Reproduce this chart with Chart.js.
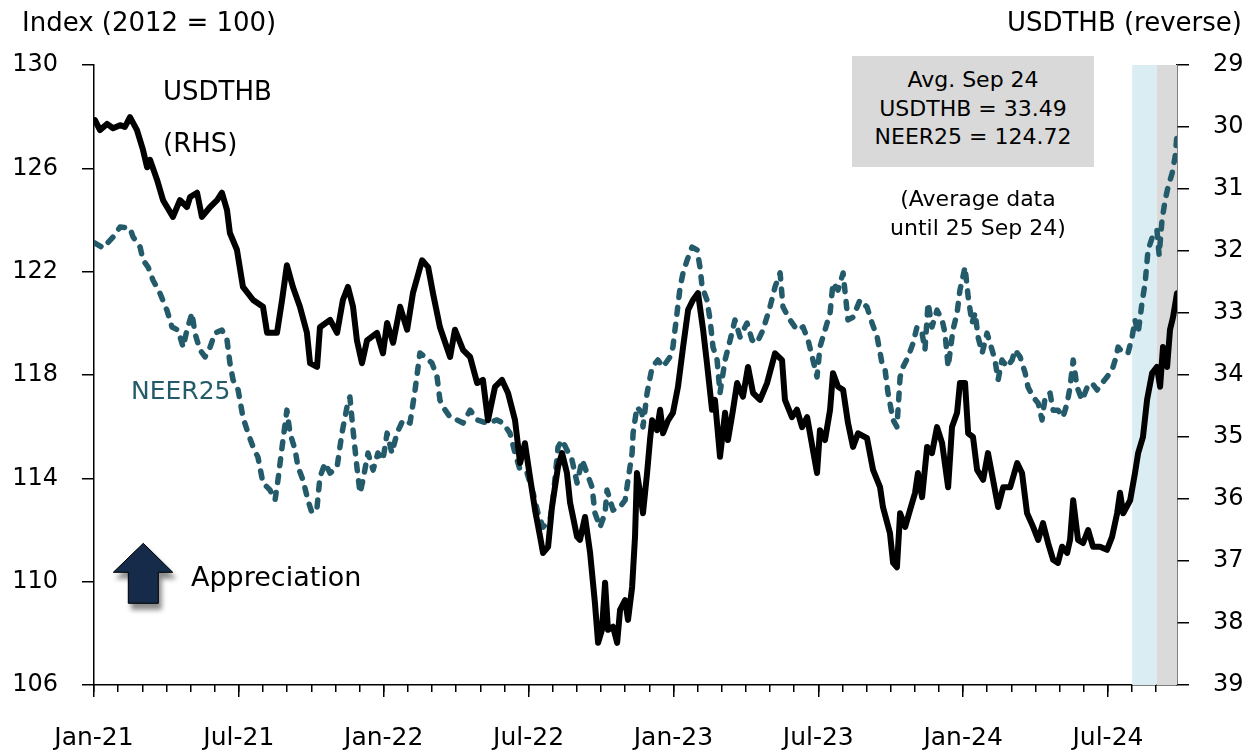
<!DOCTYPE html>
<html>
<head>
<meta charset="utf-8">
<script src="https://cdn.jsdelivr.net/npm/chart.js@4.4.1/dist/chart.umd.min.js"></script>
<style>
html,body{margin:0;padding:0;background:#fff;}
#wrap{position:relative;width:1248px;height:751px;font-family:"DejaVu Sans",sans-serif;color:#000;overflow:hidden;}
#c{position:absolute;left:0;top:0;}
.t{position:absolute;white-space:nowrap;line-height:1;}
#box{position:absolute;left:852px;top:56px;width:242px;height:111px;background:#D9D9D9;font-size:22px;line-height:28.5px;text-align:center;padding-top:10px;box-sizing:border-box;}
#note{position:absolute;left:868px;top:184px;width:220px;font-size:22px;line-height:29px;text-align:center;}
#arrow{position:absolute;left:0;top:0;overflow:visible;}
</style>
</head>
<body>
<div id="wrap">
<canvas id="c" width="1248" height="751"></canvas>
<div class="t" style="left:22px;top:9px;font-size:26px;">Index (2012 = 100)</div>
<div class="t" style="right:6px;top:9px;font-size:26px;">USDTHB (reverse)</div>
<div class="t" style="left:163px;top:78px;font-size:26px;">USDTHB</div>
<div class="t" style="left:163px;top:130px;font-size:26px;">(RHS)</div>
<div class="t" style="left:131px;top:378px;font-size:25px;color:#245B6B;">NEER25</div>
<div class="t" style="left:191px;top:563px;font-size:27px;">Appreciation</div>
<div id="box">Avg. Sep 24<br>USDTHB = 33.49<br>NEER25 = 124.72</div>
<div id="note">(Average data<br>until 25 Sep 24)</div>
<svg id="arrow" width="1248" height="751" style="pointer-events:none">
  <defs>
    <filter id="sh" x="-50%" y="-50%" width="200%" height="200%">
      <feDropShadow dx="3" dy="6" stdDeviation="2.5" flood-color="#000" flood-opacity="0.45"/>
    </filter>
  </defs>
  <polygon points="143.3,543.3 172.7,572.3 158.3,572.3 158.3,603.3 128.3,603.3 128.3,572.3 113.3,572.3" fill="#132A4A" stroke="#000" stroke-width="1" filter="url(#sh)"/>
</svg>
</div>
<script>
// ---- Data (x = months since 1 Jan 2021) ----
const xTickLabels = ['Jan-21','Jul-21','Jan-22','Jul-22','Jan-23','Jul-23','Jan-24','Jul-24'];

const usdthbMonths = [
 0.04,0.25,0.54,0.79,1.08,1.28,1.49,1.78,2.03,2.20,
 2.32,2.61,2.86,3.27,3.56,3.85,3.98,4.27,4.47,4.81,
 5.10,5.30,5.51,5.63,5.92,6.17,6.59,7.00,7.17,7.58,
 7.79,7.99,8.24,8.53,8.82,8.95,9.24,9.36,9.78,10.07,
 10.31,10.52,10.73,10.89,11.10,11.31,11.72,11.97,12.14,12.39,
 12.68,12.97,13.21,13.59,13.84,14.04,14.33,14.75,14.95,15.29,
 15.58,15.87,16.11,16.32,16.61,16.90,17.15,17.44,17.65,17.85,
 18.06,18.27,18.48,18.60,18.81,18.97,19.22,19.39,19.59,19.72,
 20.01,20.13,20.34,20.55,20.75,20.88,21.04,21.17,21.29,21.50,
 21.67,21.79,22.00,22.12,22.29,22.41,22.49,22.62,22.74,22.91,
 23.03,23.12,23.32,23.45,23.57,23.78,23.98,24.19,24.40,24.61,
 24.81,25.02,25.23,25.39,25.60,25.72,25.93,26.14,26.26,26.47,
 26.64,26.88,27.09,27.30,27.59,27.88,28.21,28.50,28.62,28.91,
 29.12,29.33,29.54,29.78,29.95,30.07,30.28,30.49,30.61,30.82,
 31.03,31.23,31.44,31.65,32.02,32.27,32.56,32.68,32.97,33.10,
 33.26,33.39,33.60,33.80,34.01,34.13,34.30,34.51,34.71,34.92,
 35.13,35.38,35.54,35.75,35.87,36.08,36.21,36.41,36.58,36.83,
 37.03,37.24,37.45,37.66,37.95,38.24,38.44,38.65,38.90,39.11,
 39.31,39.52,39.73,39.93,40.10,40.31,40.43,40.56,40.76,40.97,
 41.18,41.38,41.67,41.96,42.17,42.38,42.50,42.63,42.92,43.12,
 43.25,43.45,43.62,43.83,44.03,44.16,44.28,44.45,44.57,44.70,
 44.86
];
const usdthbValues = [
 29.89,30.05,29.95,30.02,29.97,30.00,29.84,30.05,30.37,30.65,
 30.53,30.85,31.18,31.45,31.18,31.29,31.13,31.06,31.45,31.29,
 31.18,31.06,31.34,31.71,31.98,32.58,32.79,32.90,33.32,33.32,
 32.79,32.23,32.58,32.90,33.32,33.81,33.87,33.23,33.11,33.32,
 32.79,32.58,32.90,33.44,33.81,33.44,33.32,33.65,33.16,33.48,
 32.90,33.27,32.68,32.15,32.26,32.68,33.23,33.71,33.27,33.60,
 33.71,34.13,34.08,34.73,34.19,34.08,34.29,34.73,35.42,35.10,
 35.65,36.18,36.61,36.87,36.77,36.13,35.48,35.26,35.58,36.06,
 36.61,36.66,36.29,36.87,37.68,38.32,38.11,37.35,38.11,38.06,
 38.32,37.79,37.63,37.95,37.42,36.61,35.58,35.90,36.23,35.58,
 35.05,34.73,34.89,34.56,34.94,34.73,34.61,34.19,33.55,32.95,
 32.79,32.68,33.27,33.81,34.56,34.40,35.32,34.61,35.05,34.56,
 34.13,34.35,33.87,34.29,34.40,34.13,33.65,33.76,34.40,34.68,
 34.56,34.84,34.68,35.21,35.58,34.89,35.05,34.56,33.97,34.19,
 34.24,34.77,35.16,34.94,35.02,35.53,35.81,36.13,36.55,37.03,
 37.10,36.23,36.45,36.18,35.90,35.58,35.97,35.16,35.26,34.84,
 35.10,35.81,34.84,34.61,34.13,34.13,34.94,35.00,35.53,35.69,
 35.26,35.69,36.13,35.81,35.81,35.42,35.58,36.23,36.45,36.66,
 36.39,36.71,36.98,37.03,36.77,36.87,36.66,36.02,36.66,36.71,
 36.50,36.77,36.77,36.82,36.61,36.23,35.90,36.23,36.02,35.58,
 35.26,35.00,34.40,33.97,33.87,34.19,33.55,33.87,33.27,33.06,
 32.68
];

const neerMonths = [
 0.04,0.37,0.79,1.08,1.49,1.62,1.91,2.03,2.24,2.44,
 2.73,3.02,3.23,3.48,3.69,3.85,4.06,4.18,4.39,4.60,
 4.81,5.01,5.30,5.51,5.63,5.76,5.97,6.17,6.38,6.59,
 6.79,7.00,7.29,7.50,7.62,7.79,7.99,8.12,8.33,8.45,
 8.66,8.86,9.03,9.24,9.36,9.57,9.78,10.07,10.27,10.48,
 10.60,10.73,10.89,11.02,11.14,11.35,11.56,11.76,11.97,12.14,
 12.34,12.55,12.80,13.09,13.30,13.50,13.71,14.00,14.21,14.33,
 14.46,14.75,15.04,15.29,15.58,15.87,16.28,16.69,16.94,17.23,
 17.44,17.65,17.94,18.19,18.39,18.60,18.89,19.01,19.22,19.39,
 19.59,19.80,20.01,20.22,20.42,20.63,20.75,20.96,21.17,21.25,
 21.50,21.79,22.00,22.12,22.29,22.33,22.49,22.70,22.74,22.91,
 23.12,23.36,23.57,23.86,23.98,24.15,24.28,24.40,24.57,24.77,
 24.98,25.10,25.19,25.39,25.52,25.64,25.81,25.93,26.14,26.35,
 26.55,26.76,27.05,27.26,27.46,27.71,28.00,28.21,28.42,28.54,
 28.83,29.12,29.37,29.58,29.78,29.95,30.07,30.28,30.49,30.61,
 30.82,31.03,31.23,31.44,31.73,32.02,32.23,32.44,32.64,32.77,
 32.89,33.10,33.26,33.39,33.51,33.72,33.93,34.09,34.30,34.42,
 34.55,34.71,34.92,35.13,35.25,35.38,35.58,35.75,35.87,36.08,
 36.21,36.37,36.50,36.62,36.79,36.99,37.20,37.32,37.45,37.61,
 37.82,38.03,38.15,38.36,38.57,38.69,38.90,39.11,39.27,39.40,
 39.60,39.73,39.93,40.14,40.31,40.43,40.56,40.72,40.93,41.14,
 41.34,41.55,41.76,41.96,42.17,42.30,42.42,42.63,42.83,43.00,
 43.12,43.25,43.41,43.54,43.66,43.87,44.03,44.12,44.24,44.37,
 44.49,44.66,44.78,44.86
];
const neerValues = [
 123.11,122.92,123.34,123.73,123.69,123.34,122.95,122.45,122.18,121.68,
 121.17,120.51,119.86,119.74,119.08,119.74,120.40,119.62,118.97,118.70,
 119.08,119.62,119.74,119.35,118.46,117.81,117.42,116.37,115.75,115.21,
 114.82,113.82,113.55,113.16,113.93,115.21,116.64,115.75,115.10,114.44,
 113.93,113.16,112.66,112.89,114.05,114.59,114.20,114.44,115.75,116.76,
 117.15,115.87,114.44,113.43,113.93,114.98,114.32,114.98,114.71,115.75,
 114.98,115.75,116.26,116.14,117.42,118.85,118.70,118.46,117.92,117.03,
 116.76,116.37,116.26,116.14,116.64,116.26,116.14,116.26,116.14,115.75,
 114.98,114.32,114.20,113.43,112.66,112.11,112.39,113.16,115.21,115.48,
 115.10,114.71,113.82,114.71,114.20,113.66,112.66,112.11,112.66,113.55,
 112.77,112.89,113.16,113.93,114.98,115.75,116.76,116.53,115.99,117.30,
 118.31,118.58,118.31,118.70,119.08,120.40,121.41,121.95,122.45,122.95,
 122.84,122.18,121.41,120.90,120.13,119.08,118.58,117.30,118.58,119.35,
 120.13,119.47,120.01,119.35,119.24,119.74,120.63,121.41,121.95,120.63,
 120.13,119.74,119.86,119.35,118.58,117.92,119.08,119.74,120.40,121.56,
 121.29,121.95,120.13,120.24,120.90,120.63,120.01,119.47,118.46,118.19,
 117.30,116.26,115.99,117.92,118.31,118.70,119.24,119.86,119.62,118.97,
 120.79,119.86,120.51,120.13,119.62,118.31,119.74,120.40,121.29,122.18,
 121.02,120.01,120.40,119.47,118.85,119.62,118.97,118.58,117.81,118.58,
 118.31,118.58,118.97,118.70,118.08,117.53,117.15,116.91,116.26,117.15,
 117.30,116.64,116.64,116.37,116.91,117.53,118.58,117.53,117.03,117.53,
 117.69,117.42,117.69,117.92,118.19,118.58,119.08,118.85,118.85,119.47,
 120.13,119.62,120.79,121.56,122.84,123.42,123.61,122.64,124.00,124.77,
 125.28,125.82,126.44,127.29
];

// shaded periods (months since Jan 2021): Aug 2024, Sep 2024 (to 25 Sep)
const augBand = [43, 44];
const sepBand = [44, 44.86];

const xMin = 0, xMax = 44.86;

Chart.defaults.font.family = '"DejaVu Sans", sans-serif';
Chart.defaults.color = '#000';

const axisGrid = (len) => ({drawOnChartArea:false, tickLength:len, color:'#000', lineWidth:1.5});
const axisBorder = {color:'#000', width:1.5};

new Chart(document.getElementById('c'), {
  type: 'line',
  data: {
    datasets: [
      {
        label: 'USDTHB',
        data: usdthbMonths.map((m, i) => ({x: m, y: usdthbValues[i]})),
        xAxisID: 'x', yAxisID: 'y1',
        borderColor: '#000', borderWidth: 6,
        borderJoinStyle: 'round', borderCapStyle: 'round',
        pointRadius: 0, tension: 0, order: 0
      },
      {
        label: 'NEER25',
        data: neerMonths.map((m, i) => ({x: m, y: neerValues[i]})),
        xAxisID: 'x', yAxisID: 'y',
        borderColor: '#245B6B', borderWidth: 5.5,
        borderDash: [7, 10], borderCapStyle: 'round', borderJoinStyle: 'round',
        pointRadius: 0, tension: 0, order: 1
      },
      {
        label: 'Aug',
        data: [{x: augBand[0], y: 130}, {x: augBand[1], y: 130}],
        xAxisID: 'x', yAxisID: 'y',
        fill: 'start', backgroundColor: '#DAEDF3',
        borderColor: 'transparent', borderWidth: 0, pointRadius: 0, order: 5
      },
      {
        label: 'Sep',
        data: [{x: sepBand[0], y: 130}, {x: sepBand[1], y: 130}],
        xAxisID: 'x', yAxisID: 'y',
        fill: 'start', backgroundColor: '#DADADA',
        borderColor: 'transparent', borderWidth: 0, pointRadius: 0, order: 5
      }
    ]
  },
  options: {
    responsive: false,
    animation: false,
    layout: {padding: {top: 65, left: 0, right: 0, bottom: 0}},
    plugins: {legend: {display: false}, tooltip: {enabled: false}},
    scales: {
      x: {
        type: 'linear', position: 'bottom', min: xMin, max: xMax, z: 1,
        ticks: {
          stepSize: 6, includeBounds: false, autoSkip: false, maxRotation: 0,
          font: {size: 25}, padding: 26,
          callback: (v) => xTickLabels[Math.round(v / 6)] || ''
        },
        grid: axisGrid(12),
        border: axisBorder,
        afterFit: (s) => { s.height = 66; }
      },
      xm: {
        type: 'linear', position: {y: 106}, min: xMin, max: xMax, z: 1,
        ticks: {stepSize: 1, includeBounds: false, autoSkip: false, display: false},
        grid: axisGrid(7),
        border: {display: false}
      },
      y: {
        type: 'linear', position: 'left', min: 106, max: 130, z: 1,
        ticks: {stepSize: 4, font: {size: 24}, padding: 24},
        grid: axisGrid(12),
        border: axisBorder,
        afterFit: (s) => { s.width = 94; }
      },
      y1: {
        type: 'linear', position: 'right', reverse: true, min: 29, max: 39, z: 1,
        ticks: {stepSize: 1, font: {size: 24}, padding: 24},
        grid: axisGrid(12),
        border: axisBorder,
        afterFit: (s) => { s.width = 71; }
      }
    }
  }
});
</script>
</body>
</html>
